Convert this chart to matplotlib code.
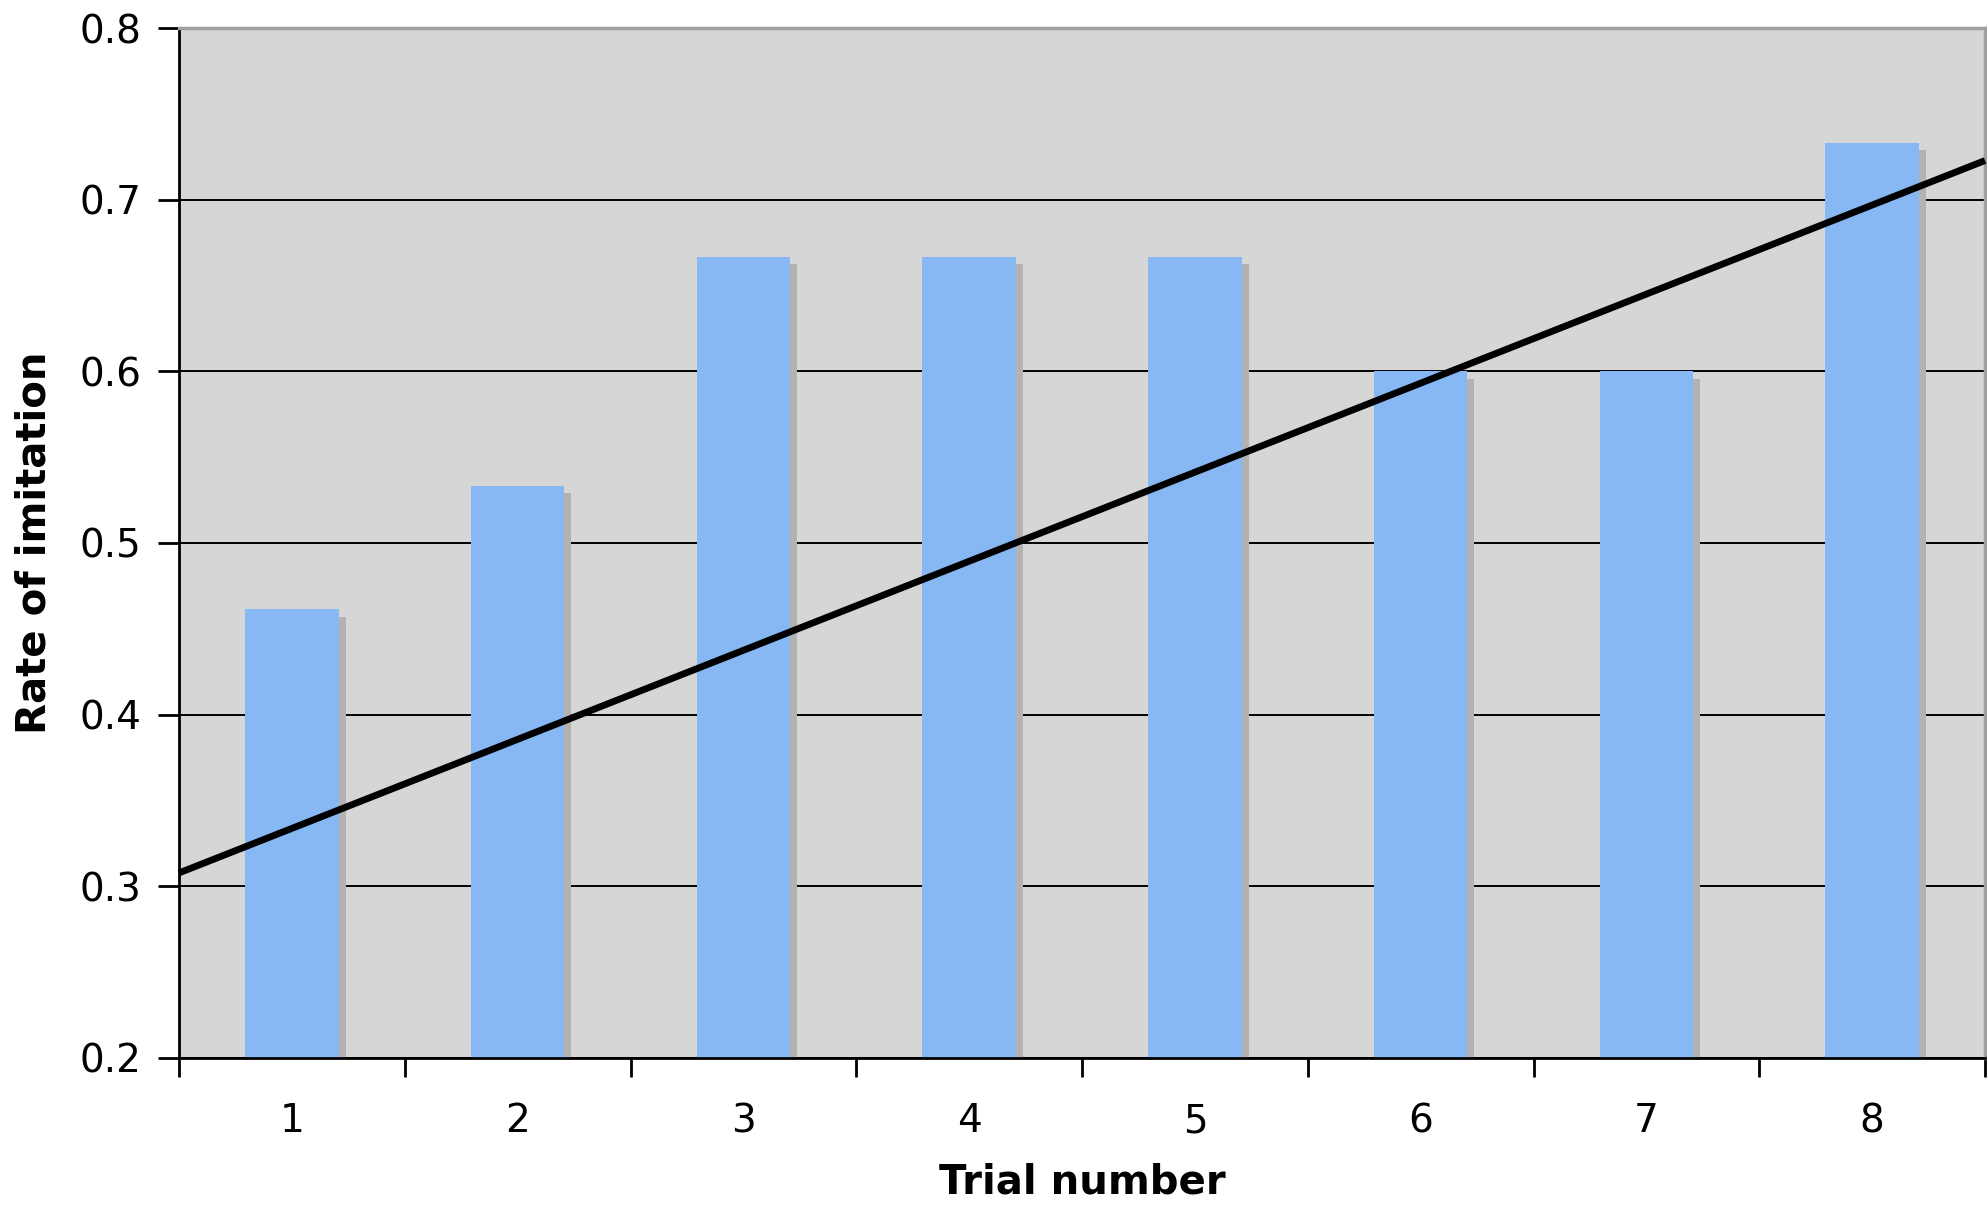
import numpy as np
import matplotlib
matplotlib.use("Agg")
import matplotlib.pyplot as plt
import matplotlib.patheffects as pe

# datos: tasa de imitacion por ensayo
trials = [1, 2, 3, 4, 5, 6, 7, 8]
rate = [0.4615, 0.5333, 0.6667, 0.6667, 0.6667, 0.6, 0.6, 0.7333]

# linea de tendencia (extremos)
trend_x = [0.5, 8.5]
trend_y = [0.3078, 0.7228]

yticks = [0.2, 0.3, 0.4, 0.5, 0.6, 0.7, 0.8]

BAR_COLOR = '#87b8f3'
BG_COLOR = '#d6d6d6'

plt.rcParams['font.family'] = 'DejaVu Sans'

fig = plt.figure(figsize=(19.87, 12.08), dpi=100)
ax = fig.add_axes([0.0901, 0.1242, 0.9089, 0.8526])
ax.set_facecolor(BG_COLOR)

bars = ax.bar(trials, rate, width=0.414, color=BAR_COLOR, zorder=2)
for b in bars:
    b.set_path_effects([
        pe.SimplePatchShadow(offset=(5, -5.5), shadow_rgbFace='#b2b2b2', alpha=1.0),
        pe.Normal(),
    ])

ax.plot(trend_x, trend_y, color='black', linewidth=4.9, zorder=3,
        solid_capstyle='butt', clip_on=False)

ax.set_xlim(0.5, 8.5)
ax.set_ylim(0.2, 0.8)

# ticks en los limites de categoria, etiquetas en el centro
ax.set_xticks(np.arange(0.5, 9.0, 1.0))
ax.set_xticklabels([])
ax.set_xticks(trials, minor=True)
ax.set_xticklabels([str(t) for t in trials], minor=True)
ax.tick_params(axis='x', which='major', length=14, width=2, direction='out')
ax.tick_params(axis='x', which='minor', length=0, pad=32, labelsize=28)

ax.set_yticks(yticks)
ax.set_yticklabels([f'{v:.1f}' for v in yticks])
ax.tick_params(axis='y', length=15, width=2, direction='out', pad=12, labelsize=28)

ax.yaxis.grid(True, color='black', linewidth=1.4)
ax.set_axisbelow(True)

for side in ['left', 'bottom']:
    ax.spines[side].set_color('black')
    ax.spines[side].set_linewidth(2)
for side in ['top', 'right']:
    ax.spines[side].set_color('#a0a0a0')
    ax.spines[side].set_linewidth(2.5)

ax.set_xlabel('Trial number', fontsize=29, fontweight='bold', labelpad=16)
ax.set_ylabel('Rate of imitation', fontsize=29, fontweight='bold', labelpad=18)

fig.savefig('out.png', dpi=100, facecolor='white')
